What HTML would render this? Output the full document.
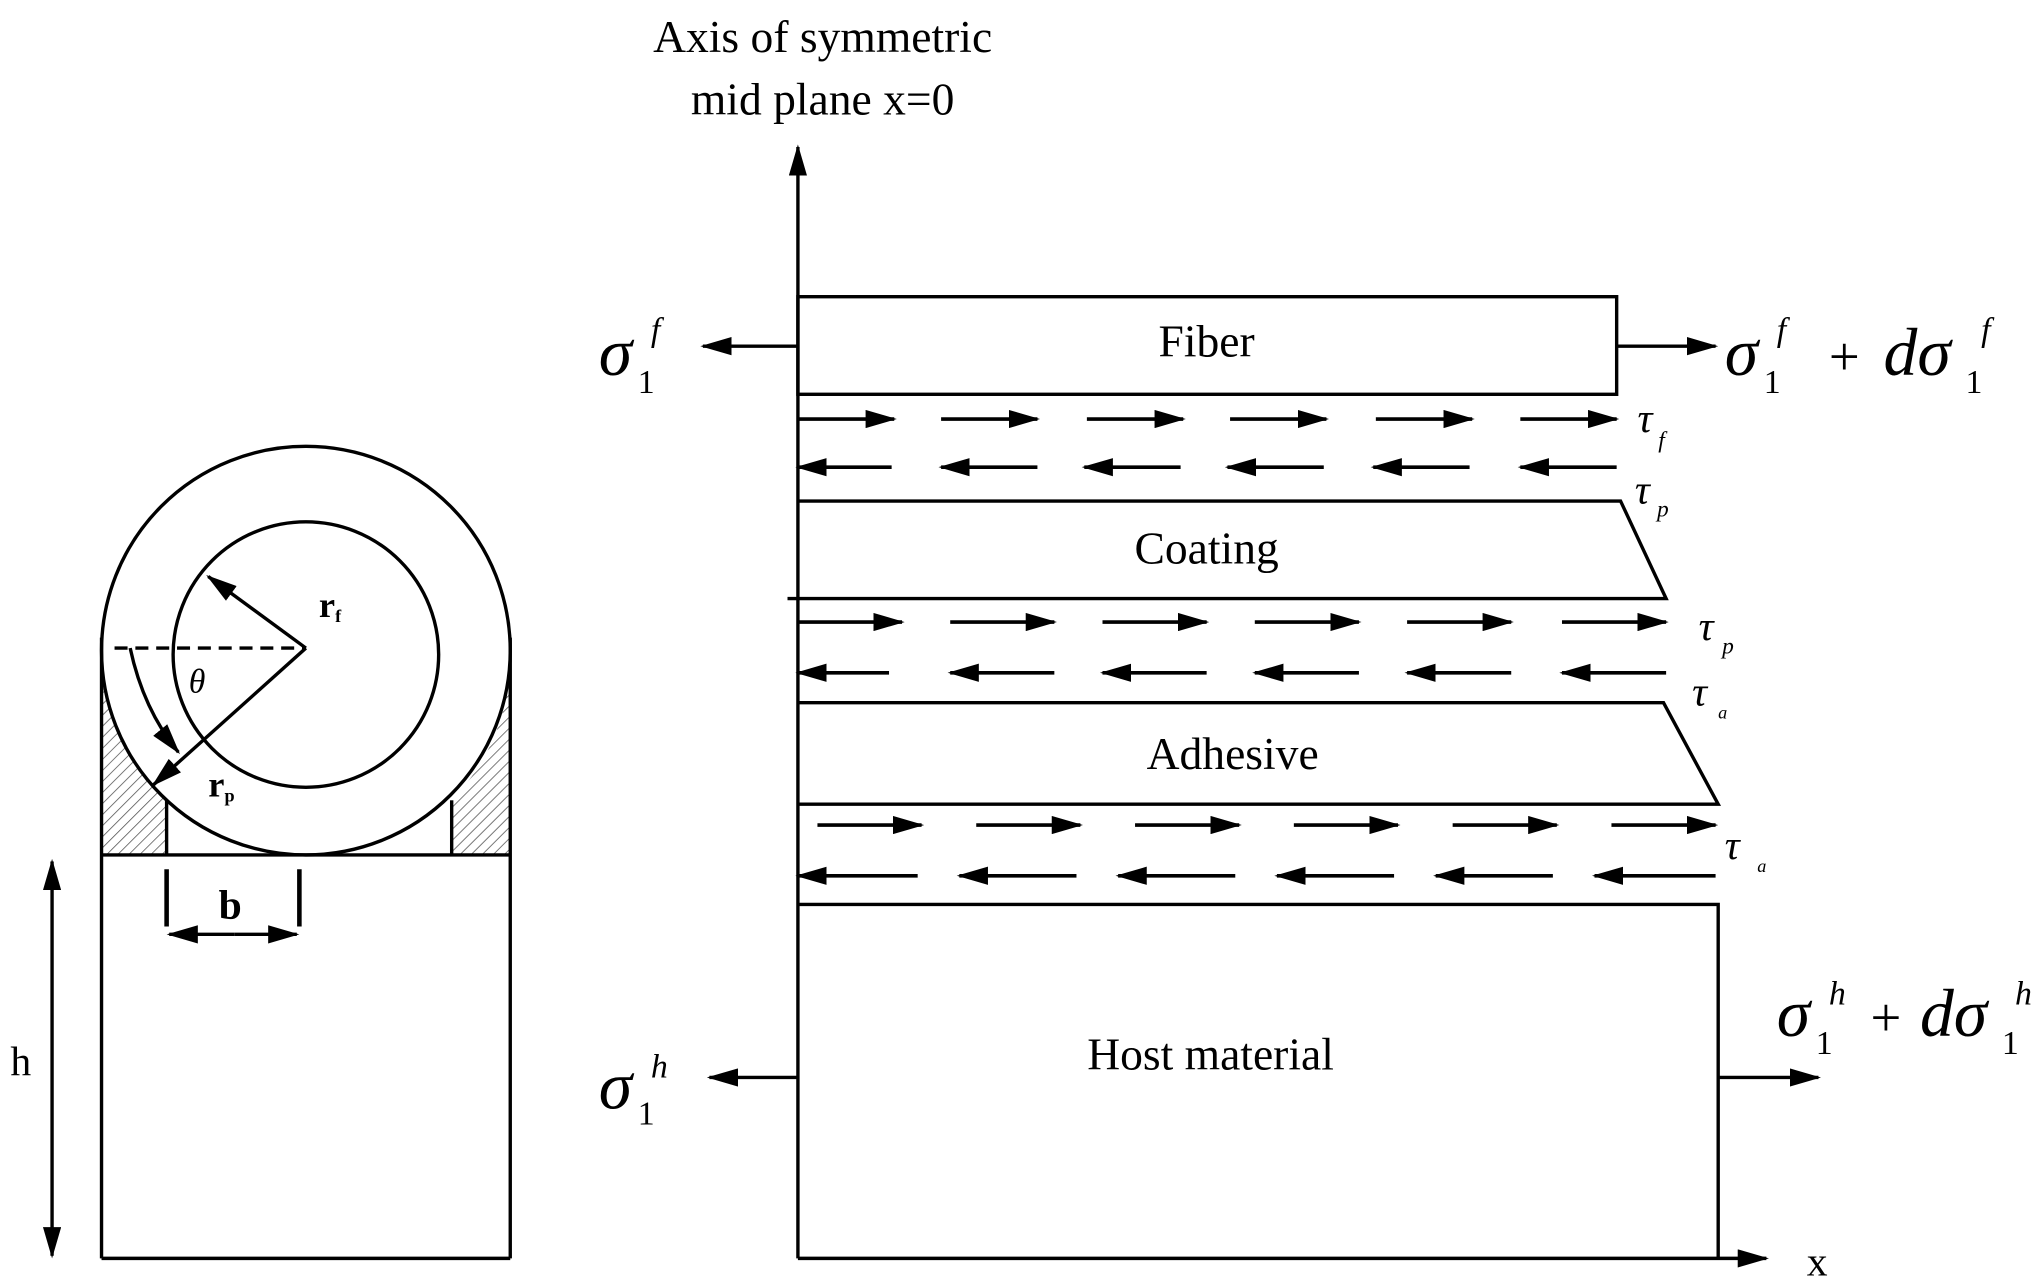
<!DOCTYPE html>
<html><head><meta charset="utf-8"><style>
html,body{margin:0;padding:0;background:#fff;}
svg{display:block;}
text{font-family:"Liberation Serif",serif;fill:#000;}
</style></head><body>
<svg width="2041" height="1287" viewBox="0 0 1568 989" preserveAspectRatio="none" xmlns="http://www.w3.org/2000/svg">
<defs>
<marker id="a" markerWidth="24" markerHeight="14" refX="22" refY="7" orient="auto" markerUnits="userSpaceOnUse">
<path d="M0,0 L24,7 L0,14 Z" fill="#000"/></marker>
<pattern id="h" width="6" height="6" patternUnits="userSpaceOnUse" patternTransform="rotate(45)">
<line x1="0" y1="0" x2="0" y2="6" stroke="#555" stroke-width="1.2"/></pattern>
</defs>
<g stroke="#000" stroke-width="2.6" fill="none">
<!-- left figure -->
<path d="M78,490 L78,657 L128,657 L128,615 A157,157 0 0 1 78,500 Z" fill="url(#h)" stroke="none"/>
<path d="M392,490 L392,657 L347,657 L347,615 A157,157 0 0 0 392,500 Z" fill="url(#h)" stroke="none"/>
<circle cx="235" cy="500" r="157" fill="#fff"/>
<circle cx="235" cy="503" r="102"/>
<line x1="78" y1="490" x2="78" y2="967"/>
<line x1="392" y1="490" x2="392" y2="967"/>
<line x1="78" y1="657" x2="392" y2="657"/>
<line x1="78" y1="967" x2="392" y2="967"/>
<line x1="128" y1="615" x2="128" y2="657"/>
<line x1="347" y1="615" x2="347" y2="657"/>
<line x1="88" y1="498" x2="235" y2="498" stroke-dasharray="10,6"/>
<line x1="235" y1="498" x2="160" y2="443" marker-end="url(#a)"/>
<line x1="235" y1="498" x2="118" y2="603" marker-end="url(#a)"/>
<path d="M100,498 Q110,545 137,578" marker-end="url(#a)"/>
<line x1="128" y1="668" x2="128" y2="712" stroke-width="3.5"/>
<line x1="230" y1="668" x2="230" y2="712" stroke-width="3.5"/>
<line x1="180" y1="718" x2="130" y2="718" marker-end="url(#a)"/>
<line x1="180" y1="718" x2="228" y2="718" marker-end="url(#a)"/>
<line x1="40" y1="800" x2="40" y2="662" marker-end="url(#a)"/>
<line x1="40" y1="800" x2="40" y2="965" marker-end="url(#a)"/>
<!-- right figure -->
<line x1="613" y1="967" x2="613" y2="113" marker-end="url(#a)"/>
<line x1="613" y1="967" x2="1357" y2="967" marker-end="url(#a)"/>
<rect x="613" y="228" width="629" height="75"/>
<polyline points="613,385 1245,385 1280,460 605,460"/>
<polyline points="613,540 1278,540 1320,618 613,618"/>
<polyline points="613,695 1320,695 1320,967"/>
<line x1="613" y1="266" x2="540" y2="266" marker-end="url(#a)"/>
<line x1="1242" y1="266" x2="1318" y2="266" marker-end="url(#a)"/>
<line x1="613" y1="828" x2="545" y2="828" marker-end="url(#a)"/>
<line x1="1320" y1="828" x2="1397" y2="828" marker-end="url(#a)"/>
<!-- shear arrows -->
<g stroke-width="2.8">
<line x1="613" y1="322" x2="687" y2="322" marker-end="url(#a)"/>
<line x1="723" y1="322" x2="797" y2="322" marker-end="url(#a)"/>
<line x1="835" y1="322" x2="909" y2="322" marker-end="url(#a)"/>
<line x1="945" y1="322" x2="1019" y2="322" marker-end="url(#a)"/>
<line x1="1057" y1="322" x2="1131" y2="322" marker-end="url(#a)"/>
<line x1="1168" y1="322" x2="1242" y2="322" marker-end="url(#a)"/>
<line x1="685" y1="359" x2="613" y2="359" marker-end="url(#a)"/>
<line x1="797" y1="359" x2="723" y2="359" marker-end="url(#a)"/>
<line x1="907" y1="359" x2="833" y2="359" marker-end="url(#a)"/>
<line x1="1017" y1="359" x2="943" y2="359" marker-end="url(#a)"/>
<line x1="1129" y1="359" x2="1055" y2="359" marker-end="url(#a)"/>
<line x1="1242" y1="359" x2="1168" y2="359" marker-end="url(#a)"/>
<line x1="613" y1="478" x2="693" y2="478" marker-end="url(#a)"/>
<line x1="730" y1="478" x2="810" y2="478" marker-end="url(#a)"/>
<line x1="847" y1="478" x2="927" y2="478" marker-end="url(#a)"/>
<line x1="964" y1="478" x2="1044" y2="478" marker-end="url(#a)"/>
<line x1="1081" y1="478" x2="1161" y2="478" marker-end="url(#a)"/>
<line x1="1200" y1="478" x2="1280" y2="478" marker-end="url(#a)"/>
<line x1="683" y1="517" x2="613" y2="517" marker-end="url(#a)"/>
<line x1="810" y1="517" x2="730" y2="517" marker-end="url(#a)"/>
<line x1="927" y1="517" x2="847" y2="517" marker-end="url(#a)"/>
<line x1="1044" y1="517" x2="964" y2="517" marker-end="url(#a)"/>
<line x1="1161" y1="517" x2="1081" y2="517" marker-end="url(#a)"/>
<line x1="1280" y1="517" x2="1200" y2="517" marker-end="url(#a)"/>
<line x1="628" y1="634" x2="708" y2="634" marker-end="url(#a)"/>
<line x1="750" y1="634" x2="830" y2="634" marker-end="url(#a)"/>
<line x1="872" y1="634" x2="952" y2="634" marker-end="url(#a)"/>
<line x1="994" y1="634" x2="1074" y2="634" marker-end="url(#a)"/>
<line x1="1116" y1="634" x2="1196" y2="634" marker-end="url(#a)"/>
<line x1="1238" y1="634" x2="1318" y2="634" marker-end="url(#a)"/>
<line x1="705" y1="673" x2="613" y2="673" marker-end="url(#a)"/>
<line x1="827" y1="673" x2="737" y2="673" marker-end="url(#a)"/>
<line x1="949" y1="673" x2="859" y2="673" marker-end="url(#a)"/>
<line x1="1071" y1="673" x2="981" y2="673" marker-end="url(#a)"/>
<line x1="1193" y1="673" x2="1103" y2="673" marker-end="url(#a)"/>
<line x1="1318" y1="673" x2="1225" y2="673" marker-end="url(#a)"/>
</g>
</g>
<!-- left labels -->
<text x="245" y="474" font-size="28" font-weight="bold">r<tspan font-size="14" dy="4">f</tspan></text>
<text x="160" y="612" font-size="28" font-weight="bold">r<tspan font-size="14" dy="4">p</tspan></text>
<text x="145" y="532" font-size="26" font-style="italic">θ</text>
<text x="168" y="706" font-size="32" font-weight="bold">b</text>
<text x="8" y="826" font-size="32">h</text>
<!-- right labels -->
<text x="632" y="40" font-size="35" text-anchor="middle">Axis of symmetric</text>
<text x="632" y="88" font-size="35" text-anchor="middle">mid plane x=0</text>
<text x="927" y="274" font-size="35" text-anchor="middle">Fiber</text>
<text x="927" y="433" font-size="35" text-anchor="middle">Coating</text>
<text x="947" y="591" font-size="35" text-anchor="middle">Adhesive</text>
<text x="930" y="822" font-size="35" text-anchor="middle">Host material</text>
<text x="1388" y="980" font-size="32">x</text>
<g font-style="italic">
<text x="460" y="288" font-size="52">σ</text><text x="490" y="302" font-size="26" font-style="normal">1</text><text x="500" y="262" font-size="26">f</text>
<text x="1325" y="288" font-size="52">σ</text><text x="1355" y="302" font-size="26" font-style="normal">1</text><text x="1365" y="262" font-size="26">f</text>
<text x="1405" y="288" font-size="42" font-style="normal">+</text>
<text x="1447" y="288" font-size="52">dσ</text><text x="1510" y="302" font-size="26" font-style="normal">1</text><text x="1522" y="262" font-size="26">f</text>
<text x="460" y="852" font-size="52">σ</text><text x="490" y="864" font-size="26" font-style="normal">1</text><text x="500" y="828" font-size="26">h</text>
<text x="1365" y="796" font-size="52">σ</text><text x="1395" y="810" font-size="26" font-style="normal">1</text><text x="1405" y="772" font-size="26">h</text>
<text x="1437" y="796" font-size="42" font-style="normal">+</text>
<text x="1475" y="796" font-size="52">dσ</text><text x="1538" y="810" font-size="26" font-style="normal">1</text><text x="1548" y="772" font-size="26">h</text>
<text x="1258" y="332" font-size="32">τ</text><text x="1274" y="344" font-size="18">f</text>
<text x="1256" y="387" font-size="32">τ</text><text x="1273" y="397" font-size="18">p</text>
<text x="1305" y="492" font-size="32">τ</text><text x="1323" y="502" font-size="18">p</text>
<text x="1300" y="542" font-size="32">τ</text><text x="1320" y="552" font-size="14">a</text>
<text x="1325" y="660" font-size="32">τ</text><text x="1350" y="670" font-size="14">a</text>
</g>
</svg>
</body></html>
